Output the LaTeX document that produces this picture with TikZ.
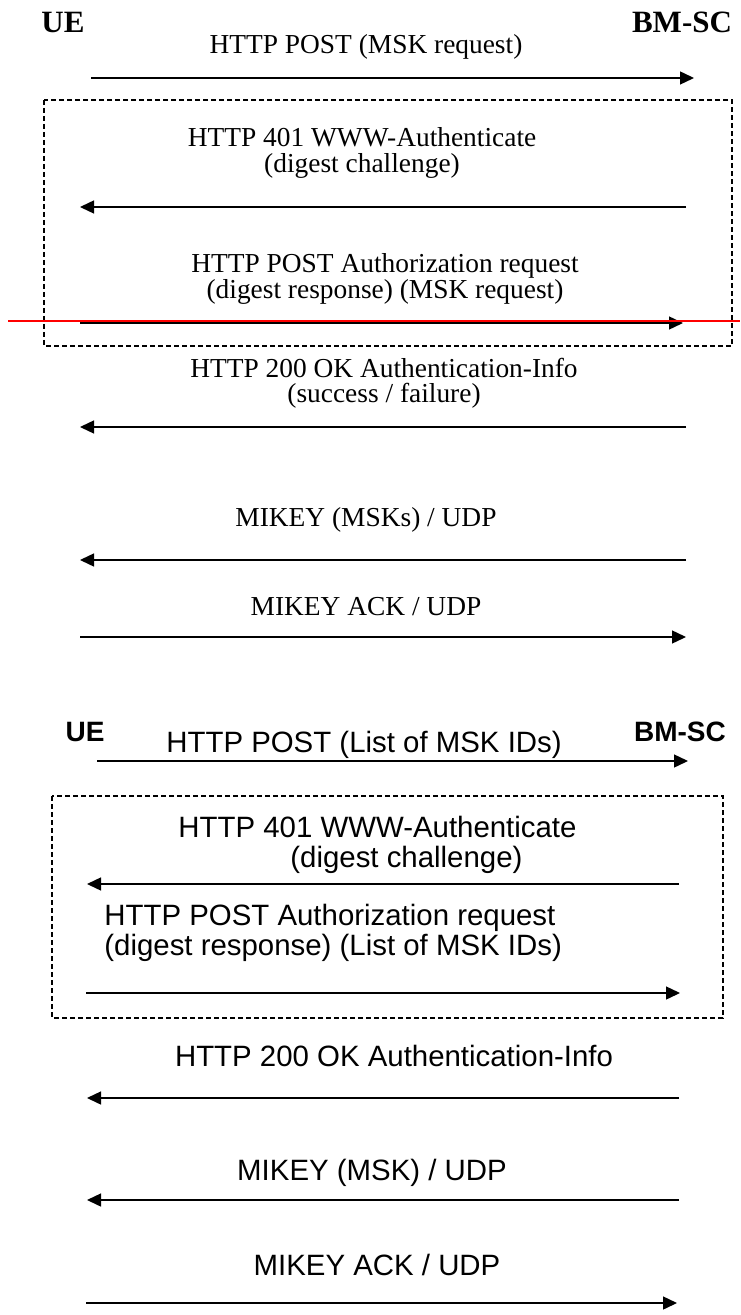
\documentclass[tikz,border=0pt]{standalone}
\usepackage{fontspec}
\setmainfont{Liberation Serif}
\setsansfont{Liberation Sans}
\usetikzlibrary{arrows.meta,positioning}
\tikzset{%
  entityName/.style={%
    inner sep=0pt,
    anchor=base,
    font=\bfseries\fontsize{15.5pt}{15.5pt}\selectfont
  },
  entityNameSans/.style={%
    inner sep=0pt,
    anchor=base,
    font=\sffamily\bfseries\fontsize{14pt}{14pt}\selectfont
  },
  msgText/.style={%
    inner sep=0pt,
    anchor=base,
    align=center,
    font=\fontsize{13.7pt}{13pt}\selectfont
  },
  msgTextSans/.style={%
    inner sep=0pt,
    anchor=base,
    align=center,
    font=\sffamily\fontsize{14.7pt}{15pt}\selectfont
  },
  msgArrow/.style={%
    -{Triangle[length=7pt,width=6.5pt]},
    line width=0.7pt
  },
  authBox/.style={%
    draw,
    line width=0.6pt,
    dash pattern=on 2.5pt off 1.5pt
  }
}

\begin{document}
\begin{tikzpicture}[x=0.5pt,y=-0.5pt]
  \useasboundingbox[fill=white] (0,0) rectangle (740,1315);

  % MSK request procedure
  \node[entityName] (ueOne) at (63,33) {UE};
  \node[entityName] (bmscOne) at (682,33) {BM-SC};

  \node[msgText] (postReq) at (366,54) {HTTP POST (MSK request)};
  \coordinate (postReqS) at (91,78);
  \coordinate (postReqE) at (694,78);
  \draw[msgArrow] (postReqS) -- (postReqE);

  \draw[authBox] (44,100) rectangle (732,346);

  \node[msgText] (chalOne) at (362,173) {HTTP 401 WWW-Authenticate\\(digest challenge)};
  \coordinate (chalOneS) at (686,207);
  \coordinate (chalOneE) at (80,207);
  \draw[msgArrow] (chalOneS) -- (chalOneE);

  \node[msgText] (authOne) at (385,299) {HTTP POST Authorization request\\(digest response) (MSK request)};
  \coordinate (authOneS) at (80,323);
  \coordinate (authOneE) at (683,323);
  \draw[msgArrow] (authOneS) -- (authOneE);
  \coordinate (redL) at (8,321.5);
  \coordinate (redR) at (740,321.5);
  \draw[red, line width=1pt] (redL) -- (redR);

  \node[msgText] (okOne) at (384,403) {HTTP 200 OK Authentication-Info\\(success / failure)};
  \coordinate (okOneS) at (686,427);
  \coordinate (okOneE) at (80,427);
  \draw[msgArrow] (okOneS) -- (okOneE);

  \node[msgText] (mikeyOne) at (366,526) {MIKEY (MSKs) / UDP};
  \coordinate (mikeyOneS) at (686,560);
  \coordinate (mikeyOneE) at (80,560);
  \draw[msgArrow] (mikeyOneS) -- (mikeyOneE);

  \node[msgText] (ackOne) at (366,615) {MIKEY ACK / UDP};
  \coordinate (ackOneS) at (80,637);
  \coordinate (ackOneE) at (686,637);
  \draw[msgArrow] (ackOneS) -- (ackOneE);

  % MSK update procedure
  \node[entityNameSans] (ueTwo) at (85,741) {UE};
  \node[entityNameSans] (bmscTwo) at (680,741) {BM-SC};

  \node[msgTextSans] (postList) at (364,752) {HTTP POST (List of MSK IDs)};
  \coordinate (postListS) at (97,761);
  \coordinate (postListE) at (688,761);
  \draw[msgArrow] (postListS) -- (postListE);

  \draw[authBox] (52,796) rectangle (723,1018);

  \node[msgTextSans, anchor=base west, align=left] (chalTwo) at (178,867)
    {HTTP 401 WWW-Authenticate\\\hspace*{56pt}(digest challenge)};
  \coordinate (chalTwoS) at (679,884);
  \coordinate (chalTwoE) at (87,884);
  \draw[msgArrow] (chalTwoS) -- (chalTwoE);

  \node[msgTextSans, anchor=base west, align=left] (authTwo) at (104,955)
    {HTTP POST Authorization request\\(digest response) (List of MSK IDs)};
  \coordinate (authTwoS) at (86,993);
  \coordinate (authTwoE) at (680,993);
  \draw[msgArrow] (authTwoS) -- (authTwoE);

  \node[msgTextSans] (okTwo) at (394,1066) {HTTP 200 OK Authentication-Info};
  \coordinate (okTwoS) at (679,1098);
  \coordinate (okTwoE) at (87,1098);
  \draw[msgArrow] (okTwoS) -- (okTwoE);

  \node[msgTextSans] (mikeyTwo) at (372,1180) {MIKEY (MSK) / UDP};
  \coordinate (mikeyTwoS) at (679,1200);
  \coordinate (mikeyTwoE) at (87,1200);
  \draw[msgArrow] (mikeyTwoS) -- (mikeyTwoE);

  \node[msgTextSans] (ackTwo) at (377,1275) {MIKEY ACK / UDP};
  \coordinate (ackTwoS) at (86,1303);
  \coordinate (ackTwoE) at (677,1303);
  \draw[msgArrow] (ackTwoS) -- (ackTwoE);
\end{tikzpicture}
\end{document}
